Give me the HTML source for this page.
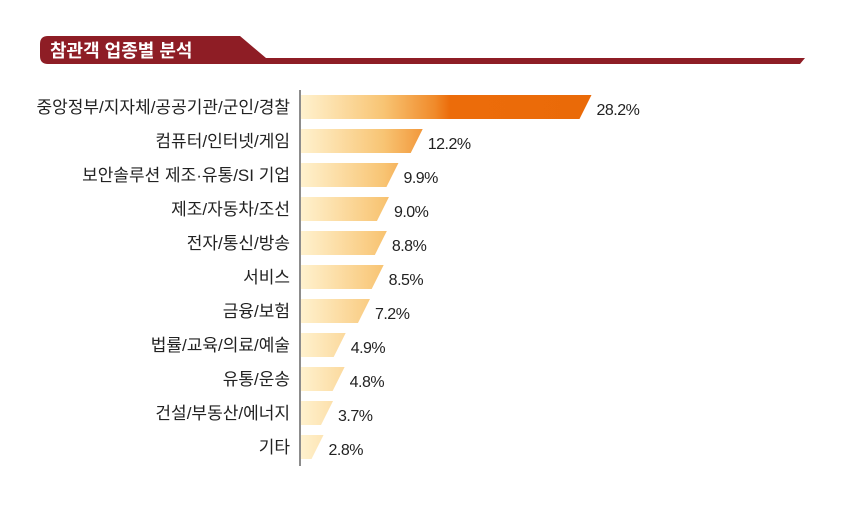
<!DOCTYPE html>
<html><head><meta charset="utf-8"><style>
body{margin:0;background:#fff;width:860px;height:500px;overflow:hidden;font-family:"Liberation Sans","Noto Sans CJK KR",sans-serif}
</style></head><body>
<svg id="chart" width="860" height="500" xmlns="http://www.w3.org/2000/svg">
<defs>
<linearGradient id="g" gradientUnits="userSpaceOnUse" x1="300" y1="0" x2="600" y2="0">
<stop offset="0" stop-color="#fff2cf"/><stop offset="0.28" stop-color="#f8c473"/><stop offset="0.45" stop-color="#f08a2a"/><stop offset="0.5" stop-color="#ec6c0a"/><stop offset="1" stop-color="#ea6a08"/>
</linearGradient>
</defs>
<path d="M48,36 L240,36 L266,58 L805,58 L800,64 L48,64 Q40,64 40,56 L40,44 Q40,36 48,36 Z" fill="#8e1d25"/>
<text x="50" y="57" fill="#fff" font-size="18" font-weight="bold">참관객 업종별 분석</text>
<line x1="300" y1="90" x2="300" y2="466" stroke="#666" stroke-width="1.5"/>
<g id="bars"></g>
</svg>
<script>
const categories=["중앙정부/지자체/공공기관/군인/경찰","컴퓨터/인터넷/게임","보안솔루션 제조·유통/SI 기업","제조/자동차/조선","전자/통신/방송","서비스","금융/보험","법률/교육/의료/예술","유통/운송","건설/부동산/에너지","기타"];
const values=[28.2,12.2,9.9,9.0,8.8,8.5,7.2,4.9,4.8,3.7,2.8];
const valueLabels=["28.2%","12.2%","9.9%","9.0%","8.8%","8.5%","7.2%","4.9%","4.8%","3.7%","2.8%"];
const x0=300;
function xs(v){return x0+10.55*v-6;}
function yc(i){return 107+i*34;}
const g=document.getElementById('bars');
const NS='http://www.w3.org/2000/svg';
categories.forEach((c,i)=>{
 const y=yc(i),xe=xs(values[i]),h=24;
 const p=document.createElementNS(NS,'path');
 p.setAttribute('d',`M${x0+1},${y-h/2} L${xe},${y-h/2} L${xe-12},${y+h/2} L${x0+1},${y+h/2} Z`);
 p.setAttribute('fill','url(#g)');
 
 
 g.appendChild(p);
 const t=document.createElementNS(NS,'text');
 t.setAttribute('x',290);t.setAttribute('y',y+6);t.setAttribute('text-anchor','end');
 t.setAttribute('font-size','17');t.setAttribute('fill','#222');
 t.textContent=c;
 
 
 g.appendChild(t);
 const v=document.createElementNS(NS,'text');
 v.setAttribute('x',xe+5);v.setAttribute('y',y+8);
 v.setAttribute('font-size','16');v.setAttribute('fill','#222');
 v.setAttribute('letter-spacing','-0.5');
 v.textContent=valueLabels[i];
 
 
 g.appendChild(v);
});
</script>
</body></html>
